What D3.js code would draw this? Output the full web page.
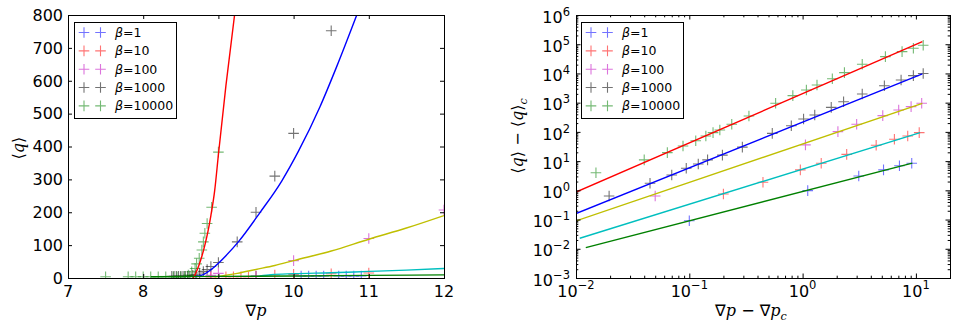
<!DOCTYPE html>
<html><head><meta charset="utf-8">
<script src="https://cdn.jsdelivr.net/npm/d3@7"></script>
<style>
html,body{margin:0;padding:0;background:#fff;}
svg{display:block;font-family:'DejaVu Sans',sans-serif;}
</style></head><body>
<div id="chart"></div>
<script>
// series
const betas=['1','10','100','1000','10000'];
const markerCols=['#0000ff','#ff0000','#bf00bf','#000000','#008000'];
const fitCols=['#ff0000','#0000ff','#bfbf00','#00bfbf','#008000'];

// left panel: <q> vs grad p
const linXTicks=[7,8,9,10,11,12];
const linYTicks=[0,100,200,300,400,500,600,700,800];
const lin_b1=[[9.5,6],[10.1,6],[10.2,6],[10.3,6],[10.4,6],[10.6,6],[10.7,6],[10.8,6],[10.9,6]];
const lin_b10=[[8.9,3],[9.1,4],[9.2,4],[9.3,4],[9.4,4],[9.5,5],[9.75,9],[10,11],[10.5,13],[11,15]];
const lin_b100=[[8.9,8],[9.0,14],[10,53],[11,120],[12,207]];
const lin_b1000=[[8.38,5],[8.41,5],[8.44,5],[8.47,5],[8.5,5],[8.53,5],[8.56,5],[8.59,5],[8.62,6],[8.66,8],[8.7,10],[8.75,15],[8.8,20],[8.85,26],[8.9,35],[9.0,47],[9.25,110],[9.5,200],[9.75,310],[10,440],[10.5,752]];
const lin_b10000=[[7.5,4],[7.8,4],[7.9,4],[8.0,4],[8.1,4],[8.2,4],[8.3,4],[8.4,4],[8.45,4],[8.5,4],[8.55,5],[8.6,9],[8.645,19],[8.69,29],[8.71,43],[8.745,60],[8.78,85],[8.8,110],[8.82,136],[8.85,166],[8.91,215],[9.0,383]];
const linFitR=[[8.665,0],[8.7,15],[8.74,38],[8.78,66],[8.82,100],[8.86,140],[8.9,190],[8.95,265],[9.0,375],[9.1,585],[9.215,800]];
const linFitB=[[8.7,4],[8.8,10],[8.9,25],[9.0,45],[9.1,68],[9.265,110],[9.553,199],[9.842,295],[10.063,385],[10.351,521],[10.573,643],[10.84,800]];
const linFitY=[[8.95,3],[9.25,14],[9.5,26],[9.75,38],[10,53],[10.5,82],[11,118],[11.5,152],[12,190]];
const linFitC=[[9.55,6],[9.7,10],[10,13],[10.5,16],[11,20],[11.5,24],[12,29]];
const linFitG=[[8.1,4],[9,5],[10,6],[11,8],[12,9.5]];

// right panel: <q>-<q>_c vs grad p - grad p_c (log-log)
const logXTicks=[0.01,0.1,1,10];
const logXExp=['\u22122','\u22121','0','1'];
const logYTicks=[1e-3,1e-2,1e-1,1,10,100,1e3,1e4,1e5,1e6];
const logYExp=['\u22123','\u22122','\u22121','0','1','2','3','4','5','6'];
const log_b1=[[0.1,0.091],[1.11,0.98],[3.13,3.1],[5.18,5.0],[7.16,6.9],[9.19,8.4]];
const log_b10=[[0.2,0.75],[0.447,1.9],[0.955,5.0],[1.46,8.4],[2.45,17],[4.46,35],[6.46,56],[8.47,72],[10.7,94]];
const log_b100=[[0.05,0.64],[1.06,36],[2.05,102],[3.0,182],[5.1,359],[7.05,560],[9.07,730],[11.25,950]];
const log_b1000=[[0.0196,0.64],[0.045,1.74],[0.07,3.35],[0.094,5.7],[0.12,8.0],[0.145,11],[0.196,16],[0.294,30],[0.54,89],[0.795,163],[1.02,275],[1.28,380],[1.79,690],[2.3,1070],[3.36,1980],[5.27,3800],[7.4,5970],[9.5,8400],[11.6,10000]];
const log_b10000=[[0.015,4.0],[0.04,11],[0.064,19.5],[0.088,33],[0.114,50],[0.14,72],[0.162,94],[0.186,116],[0.237,182],[0.336,350],[0.578,950],[0.82,1740],[1.08,2700],[1.34,4000],[1.83,6600],[2.34,10700],[3.36,20600],[5.38,37500],[7.55,55600],[9.5,72500],[11.6,92000]];
const logFitR=[[0.01,0.87],[11.4,122000]];
const logFitB=[[0.01,0.16],[11.4,9600]];
const logFitY=[[0.01,0.09],[11.4,950]];
const logFitC=[[0.0108,0.023],[10.9,94]];
const logFitG=[[0.0122,0.011],[9.3,8.5]];

const W=957,H=326;
const svg=d3.select('#chart').append('svg').attr('width',W).attr('height',H);
const PL={l:68,r:444,t:15,b:278}, PR={l:576,r:950,t:15,b:278};

function plus(g,data,x,y,col){
  g.selectAll(null).data(data).join('path')
    .attr('d',d=>{const cx=x(d[0]),cy=y(d[1]),s=5.3;return `M${cx-s},${cy}H${cx+s}M${cx},${cy-s}V${cy+s}`;})
    .attr('fill','none').attr('stroke',col).attr('stroke-opacity',.55).attr('stroke-width',1.1);
}
function fit(g,data,x,y,col,curve){
  g.append('path').datum(data).attr('fill','none').attr('stroke',col).attr('stroke-width',1.4)
    .attr('d',d3.line().x(d=>x(d[0])).y(d=>y(d[1])).curve(curve||d3.curveLinear));
}
function ticks(g,P,x,y,xv,yv,len){
  const w=P.r-P.l,h=P.b-P.t;
  const ax=(a,tr)=>g.append('g').attr('transform',tr).call(a.tickSize(-len).tickSizeOuter(0).tickFormat(''))
    .call(s=>s.select('.domain').remove()).call(s=>s.selectAll('line').attr('stroke','#000'));
  ax(d3.axisBottom(x).tickValues(xv),`translate(0,${h})`);
  ax(d3.axisTop(x).tickValues(xv),'translate(0,0)');
  ax(d3.axisLeft(y).tickValues(yv),'translate(0,0)');
  ax(d3.axisRight(y).tickValues(yv),`translate(${w},0)`);
}
function legend(x0){
  const leg=svg.append('g').attr('transform',`translate(${x0},22)`);
  leg.append('rect').attr('x',0.5).attr('y',0.5).attr('width',102).attr('height',96).attr('fill','#fff').attr('stroke','#000').attr('stroke-width',1);
  betas.forEach((b,i)=>{
    const yy=10.5+i*18.35;
    plus(leg,[[10,yy],[26.5,yy]],d=>d,d=>d,markerCols[i]);
    const t=leg.append('text').attr('x',41).attr('y',yy+4.4).attr('font-size',12.5);
    t.append('tspan').attr('font-style','italic').text('\u03b2');
    t.append('tspan').text('='+b);
  });
}
function mathText(g,parts,size){
  const t=g.append('text').attr('font-size',size).attr('text-anchor','middle');
  parts.forEach(([s,st])=>{
    const ts=t.append('tspan').text(s);
    if(st==='i') ts.attr('font-family','DejaVu Serif').attr('font-style','italic');
    if(st==='sub') ts.attr('font-family','DejaVu Serif').attr('font-style','italic').attr('font-size',size*0.7).attr('dy',size*0.22);
  });
  return t;
}

// ---------- left panel ----------
(function(){
  const P=PL,w=P.r-P.l,h=P.b-P.t;
  const x=d3.scaleLinear().domain([7,12]).range([0,w]);
  const y=d3.scaleLinear().domain([0,800]).range([h,0]);
  const g=svg.append('g').attr('transform',`translate(${P.l},${P.t})`);
  svg.append('clipPath').attr('id','clipL').append('rect').attr('width',w).attr('height',h);
  const pg=g.append('g').attr('clip-path','url(#clipL)');
  [lin_b1,lin_b10,lin_b100,lin_b1000,lin_b10000].forEach((d,i)=>plus(pg,d,x,y,markerCols[i]));
  [linFitR,linFitB,linFitY,linFitC,linFitG].forEach((d,i)=>fit(pg,d,x,y,fitCols[i],d3.curveMonotoneX));
  ticks(g,P,x,y,linXTicks,linYTicks,4);
  g.append('rect').attr('x',0.5).attr('y',0.5).attr('width',w).attr('height',h).attr('fill','none').attr('stroke','#000');
  g.selectAll('.xl').data(linXTicks).join('text').attr('x',d=>x(d)).attr('y',h+19).attr('text-anchor','middle').attr('font-size',16).text(d=>d);
  g.selectAll('.yl').data(linYTicks).join('text').attr('x',-5).attr('y',d=>y(d)+5.8).attr('text-anchor','end').attr('font-size',16).text(d=>d);
  mathText(svg,[['\u2207',''],['p','i']],16).attr('x',P.l+w/2).attr('y',316);
  mathText(svg,[['\u27e8',''],['q','i'],['\u27e9','']],16).attr('transform','translate(24,148) rotate(-90)');
  legend(74);
})();

// ---------- right panel ----------
(function(){
  const P=PR,w=P.r-P.l,h=P.b-P.t;
  const x=d3.scaleLog().domain([0.01,20]).range([0,w]);
  const y=d3.scaleLog().domain([1e-3,1e6]).range([h,0]);
  const g=svg.append('g').attr('transform',`translate(${P.l},${P.t})`);
  svg.append('clipPath').attr('id','clipR').append('rect').attr('width',w).attr('height',h);
  const pg=g.append('g').attr('clip-path','url(#clipR)');
  [log_b1,log_b10,log_b100,log_b1000,log_b10000].forEach((d,i)=>plus(pg,d,x,y,markerCols[i]));
  [logFitR,logFitB,logFitY,logFitC,logFitG].forEach((d,i)=>fit(pg,d,x,y,fitCols[i]));
  const minor=(lo,hi)=>d3.range(lo,hi).flatMap(e=>d3.range(2,10).map(k=>k*Math.pow(10,e)));
  const mx=minor(-2,2).filter(v=>v<=20), my=minor(-3,6);
  ticks(g,P,x,y,mx,my,2.3);
  ticks(g,P,x,y,logXTicks,logYTicks,4.5);
  g.append('rect').attr('x',0.5).attr('y',0.5).attr('width',w).attr('height',h).attr('fill','none').attr('stroke','#000');
  logXTicks.forEach((v,i)=>{
    const t=g.append('text').attr('x',x(v)).attr('y',h+19).attr('text-anchor','middle').attr('font-size',16);
    t.append('tspan').text('10');
    t.append('tspan').attr('font-size',11.5).attr('dy',-8).text(logXExp[i]);
  });
  logYTicks.forEach((v,i)=>{
    const t=g.append('text').attr('x',-6).attr('y',y(v)+7.7).attr('text-anchor','end').attr('font-size',16);
    t.append('tspan').text('10');
    t.append('tspan').attr('font-size',11.5).attr('dy',-7).text(logYExp[i]);
  });
  mathText(svg,[['\u2207',''],['p','i'],[' \u2212 \u2207',''],['p','i'],['c','sub']],16).attr('x',P.l+w/2-12).attr('y',316);
  mathText(svg,[['\u27e8',''],['q','i'],['\u27e9 \u2212 \u27e8',''],['q','i'],['\u27e9',''],['c','sub']],16).attr('transform','translate(523,136) rotate(-90)');
  legend(581);
})();
</script>
</body></html>
